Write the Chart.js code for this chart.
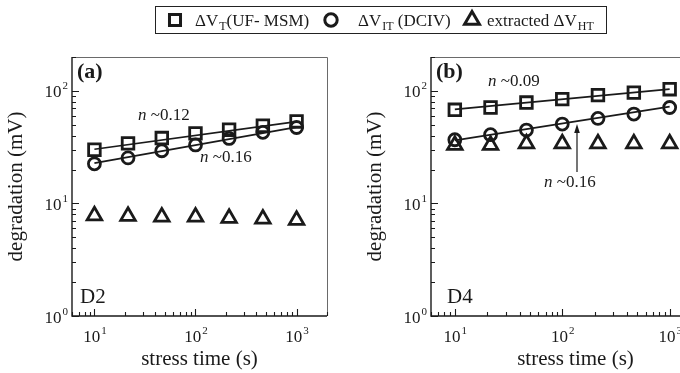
<!DOCTYPE html>
<html>
<head>
<meta charset="utf-8">
<script src="https://cdn.jsdelivr.net/npm/chart.js@4.4.1/dist/chart.umd.min.js"></script>
<style>
  body { margin: 0; background: #fff; overflow: hidden; }
  #wrap { position: relative; width: 680px; height: 373px; overflow: hidden; }
  #chartA { position: absolute; left: 0; top: 0; }
  #chartB { position: absolute; left: 340px; top: 0; }
</style>
</head>
<body>
<div id="wrap">
  <canvas id="chartA" width="680" height="373"></canvas>
  <canvas id="chartB" width="400" height="373"></canvas>
</div>
<script>
// stress times (s) and the two ends of the power-law fits
const stressTime = [10, 21.5, 46.4, 100, 215, 464, 1000];
const fitTime = [10, 1000];

// device D2 (mV)
const d2Total = [30.0, 34.2, 38.1, 41.9, 45.2, 49.0, 53.5];
const d2Interface = [22.5, 25.4, 29.4, 33.1, 37.8, 42.8, 47.3];
const d2Hole = [7.8, 7.7, 7.6, 7.6, 7.4, 7.3, 7.1];
const d2FitTotal = [30.3, 53.3];
const d2FitInterface = [22.8, 47.6];

// device D4 (mV)
const d4Total = [67.9, 71.2, 78.8, 84.4, 91.6, 96.6, 103.5];
const d4Interface = [36.8, 40.8, 44.9, 50.7, 56.9, 62.2, 71.2];
const d4Hole = [33, 33, 34, 34, 34, 34, 34];
const d4FitTotal = [68.5, 103.5];
const d4FitInterface = [36.3, 72.5];

// axis ranges and labelled decades
const xRange = [6, 2000];
const yRange = [1, 200];
const xDecades = [1, 2, 3];
const yDecades = [0, 1, 2];

const serif = '"Liberation Serif", "DejaVu Serif", serif';
const ink = '#1a1a1a';

function pts(xs, ys) {
  return xs.map((x, i) => ({ x: x, y: ys[i] }));
}

function markerSet(label, ys, style, radius) {
  return {
    label: label,
    data: pts(stressTime, ys),
    showLine: false,
    pointStyle: style,
    pointRadius: radius,
    pointHoverRadius: radius,
    pointBorderWidth: 2.8,
    pointBorderColor: ink,
    pointBackgroundColor: 'rgba(0,0,0,0)',
  };
}

function fitSet(ys) {
  return {
    label: 'fit',
    data: pts(fitTime, ys),
    showLine: true,
    borderColor: ink,
    borderWidth: 1.7,
    pointRadius: 0,
    fill: false,
  };
}

function logTicks(min, max) {
  const out = [];
  for (let e = Math.floor(Math.log10(min)); e <= Math.ceil(Math.log10(max)); e++) {
    for (let m = 1; m < 10; m++) {
      const v = m * Math.pow(10, e);
      if (v >= min && v <= max) out.push({ v: v, major: m === 1 });
    }
  }
  return out;
}

// "10" with a raised exponent; y is the baseline
function powLabel(ctx, x, y, exp, align) {
  ctx.font = '17px ' + serif;
  const wBase = ctx.measureText('10').width;
  ctx.font = '11px ' + serif;
  const wExp = ctx.measureText(String(exp)).width;
  const left = align === 'right' ? x - wBase - wExp - 1 : x - (wBase + wExp) / 2;
  ctx.textAlign = 'left';
  ctx.textBaseline = 'alphabetic';
  ctx.font = '17px ' + serif;
  ctx.fillText('10', left, y);
  ctx.font = '11px ' + serif;
  ctx.fillText(String(exp), left + wBase + 1, y - 8);
}

// text + lowered subscript + more text, returns the end x
function subText(ctx, x, y, main, sub, rest) {
  ctx.textAlign = 'left';
  ctx.textBaseline = 'alphabetic';
  ctx.font = '17px ' + serif;
  ctx.fillText(main, x, y);
  x += ctx.measureText(main).width + 1;
  ctx.font = '12px ' + serif;
  ctx.fillText(sub, x, y + 4);
  x += ctx.measureText(sub).width;
  ctx.font = '17px ' + serif;
  ctx.fillText(rest, x, y);
  return x + ctx.measureText(rest).width;
}

// "n ~0.12" with an italic n
function nLabel(ctx, x, y, value) {
  ctx.textAlign = 'left';
  ctx.textBaseline = 'middle';
  ctx.font = 'italic 17px ' + serif;
  ctx.fillText('n', x, y);
  const w = ctx.measureText('n ').width;
  ctx.font = '17px ' + serif;
  ctx.fillText('~' + value, x + w, y);
}

function drawLegend(ctx) {
  const y = 26;
  const mark = (style, cx, r) => {
    ctx.save();
    ctx.strokeStyle = ink;
    ctx.fillStyle = 'rgba(0,0,0,0)';
    ctx.lineWidth = 3;
    Chart.helpers.drawPoint(ctx, { pointStyle: style, radius: r, rotation: 0, borderWidth: 3 }, cx, 20);
    ctx.restore();
  };
  ctx.fillStyle = ink;
  mark('rect', 175, 7.8);
  subText(ctx, 195, y, '\u0394V', 'T', '(UF- MSM)');
  mark('circle', 331, 6.2);
  subText(ctx, 358, y, '\u0394V', 'IT', ' (DCIV)');
  mark('triangle', 472, 8.6);
  const end = subText(ctx, 487, y, 'extracted \u0394V', 'HT', '');
  ctx.strokeStyle = '#222';
  ctx.lineWidth = 1;
  ctx.strokeRect(155.5, 6.5, Math.round(end + 12) - 155, 27);
}

function framePlugin(panel) {
  return {
    id: 'frame',
    afterDatasetsDraw(chart) {
      const ctx = chart.ctx;
      const a = chart.chartArea;
      const xs = chart.scales.x;
      const ys = chart.scales.y;
      ctx.save();

      // box: black axes, grey top and right
      ctx.strokeStyle = '#6a6a6a';
      ctx.lineWidth = 1;
      ctx.beginPath();
      ctx.moveTo(a.left, a.top + 0.5);
      ctx.lineTo(a.right + 0.5, a.top + 0.5);
      ctx.lineTo(a.right + 0.5, a.bottom);
      ctx.stroke();
      ctx.strokeStyle = ink;
      ctx.lineWidth = 1.4;
      ctx.beginPath();
      ctx.moveTo(a.left, a.top);
      ctx.lineTo(a.left, a.bottom);
      ctx.lineTo(a.right, a.bottom);
      ctx.stroke();

      // inward ticks
      ctx.lineWidth = 1.1;
      ctx.beginPath();
      logTicks(xRange[0], xRange[1]).forEach(t => {
        const px = Math.round(xs.getPixelForValue(t.v)) + 0.5;
        ctx.moveTo(px, a.bottom);
        ctx.lineTo(px, a.bottom - (t.major ? 7 : 4));
      });
      logTicks(yRange[0], yRange[1]).forEach(t => {
        const py = Math.round(ys.getPixelForValue(t.v)) + 0.5;
        ctx.moveTo(a.left, py);
        ctx.lineTo(a.left + (t.major ? 7 : 4), py);
      });
      ctx.stroke();

      // tick labels
      ctx.fillStyle = ink;
      xDecades.forEach(e => powLabel(ctx, xs.getPixelForValue(Math.pow(10, e)), a.bottom + 26, e, 'center'));
      yDecades.forEach(e => powLabel(ctx, a.left - 4, ys.getPixelForValue(Math.pow(10, e)) + 6.5, e, 'right'));

      // axis titles
      ctx.font = '21px ' + serif;
      ctx.textAlign = 'center';
      ctx.textBaseline = 'middle';
      ctx.fillText('stress time (s)', (a.left + Math.min(a.right, chart.width)) / 2 + panel.titleShift, 359);
      ctx.save();
      ctx.translate(a.left - 56, (a.top + a.bottom) / 2);
      ctx.rotate(-Math.PI / 2);
      ctx.fillText('degradation (mV)', 0, 0);
      ctx.restore();

      // panel tag and device name
      ctx.textAlign = 'left';
      ctx.font = 'bold 22px ' + serif;
      ctx.fillText(panel.tag, a.left + 5, 72);
      ctx.font = '21px ' + serif;
      ctx.fillText(panel.device, a.left + panel.deviceDx, 297);

      panel.notes.forEach(n => nLabel(ctx, n.x, n.y, n.text));

      if (panel.arrow) {
        const ar = panel.arrow;
        ctx.strokeStyle = ink;
        ctx.lineWidth = 1.2;
        ctx.beginPath();
        ctx.moveTo(ar.x, ar.y0);
        ctx.lineTo(ar.x, ar.y1 + 6);
        ctx.stroke();
        ctx.beginPath();
        ctx.moveTo(ar.x, ar.y1);
        ctx.lineTo(ar.x - 2.8, ar.y1 + 9);
        ctx.lineTo(ar.x + 2.8, ar.y1 + 9);
        ctx.closePath();
        ctx.fill();
      }

      if (panel.legend) drawLegend(ctx);
      ctx.restore();
    }
  };
}

function makeChart(id, sets, padding, panel) {
  return new Chart(document.getElementById(id), {
    type: 'scatter',
    data: { datasets: sets },
    options: {
      responsive: false,
      animation: false,
      devicePixelRatio: 1,
      layout: { padding: padding },
      plugins: { legend: { display: false }, tooltip: { enabled: false } },
      scales: {
        x: { type: 'logarithmic', min: xRange[0], max: xRange[1], display: false },
        y: { type: 'logarithmic', min: yRange[0], max: yRange[1], display: false },
      },
    },
    plugins: [framePlugin(panel)],
  });
}

makeChart('chartA', [
  fitSet(d2FitTotal),
  fitSet(d2FitInterface),
  markerSet('\u0394VT (UF-MSM)', d2Total, 'rect', 8.2),
  markerSet('\u0394VIT (DCIV)', d2Interface, 'circle', 6),
  markerSet('extracted \u0394VHT', d2Hole, 'triangle', 8.4),
], { left: 72, right: 353, top: 57, bottom: 57 }, {
  tag: '(a)', device: 'D2', deviceDx: 8, titleShift: 0, legend: true,
  notes: [{ x: 138, y: 116, text: '0.12' }, { x: 200, y: 158, text: '0.16' }],
});

makeChart('chartB', [
  fitSet(d4FitTotal),
  fitSet(d4FitInterface),
  markerSet('\u0394VT (UF-MSM)', d4Total, 'rect', 8.2),
  markerSet('\u0394VIT (DCIV)', d4Interface, 'circle', 6),
  markerSet('extracted \u0394VHT', d4Hole, 'triangle', 8.4),
], { left: 91, right: 38, top: 57, bottom: 57 }, {
  tag: '(b)', device: 'D4', deviceDx: 16, titleShift: 9, legend: false,
  notes: [{ x: 148, y: 82, text: '0.09' }, { x: 204, y: 183, text: '0.16' }],
  arrow: { x: 237, y0: 172, y1: 124 },
});
</script>
</body>
</html>
